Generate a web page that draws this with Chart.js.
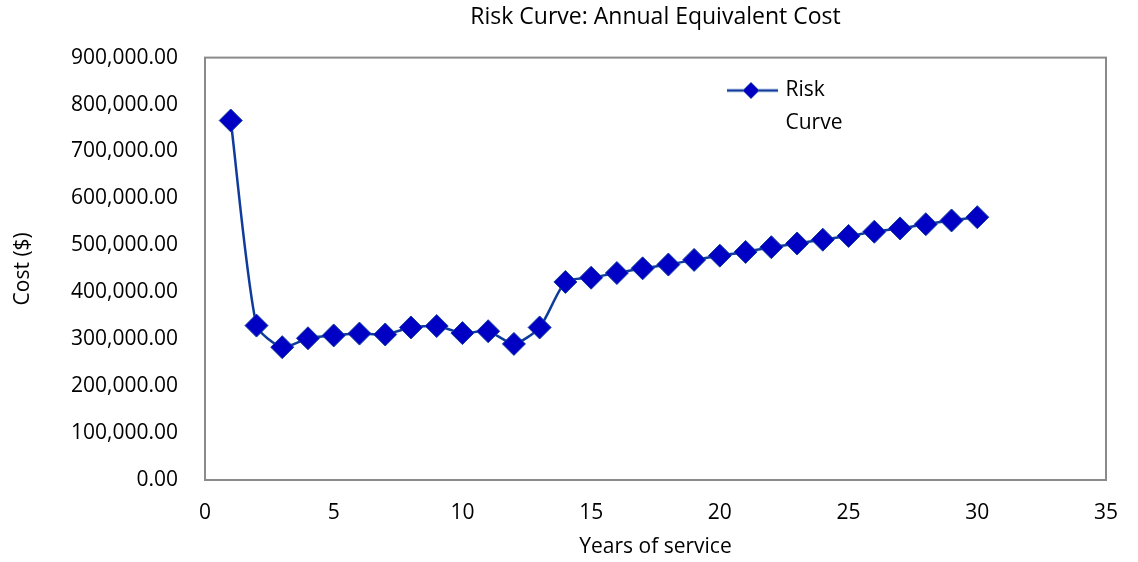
<!DOCTYPE html>
<html>
<head>
<meta charset="utf-8">
<script src="https://cdn.jsdelivr.net/npm/chart.js@4"></script>
<style>
  html, body { margin: 0; padding: 0; background: #ffffff; }
  #wrap { width: 1138px; height: 562px; }
</style>
</head>
<body>
<div id="wrap"><canvas id="c" width="1138" height="562"></canvas></div>
<script>
// Years of service and the annual equivalent cost of each year
const years = [1, 2, 3, 4, 5, 6, 7, 8, 9, 10, 11, 12, 13, 14, 15,
               16, 17, 18, 19, 20, 21, 22, 23, 24, 25, 26, 27, 28, 29, 30];
const riskCost = [766000, 329000, 283000, 302000, 308000, 312000, 310000, 325000, 328000, 313000,
                  317000, 290000, 325000, 422000, 431000, 441000, 451000, 459000, 469000, 478000,
                  486000, 496000, 504000, 512000, 520000, 529000, 536000, 545000, 553000, 560000];
const xTicks = [0, 5, 10, 15, 20, 25, 30, 35];
const yTicks = [0, 100000, 200000, 300000, 400000, 500000, 600000, 700000, 800000, 900000];

const FONT = "'Open Sans', 'Liberation Sans', sans-serif";
const LINE = '#0f3c9c';
const FILL = '#0000c4';

// Legend symbol: a short line with a diamond on it
function legendSymbol() {
  const cv = document.createElement('canvas');
  cv.width = 54; cv.height = 20;
  const g = cv.getContext('2d');
  g.strokeStyle = LINE; g.lineWidth = 2.5;
  g.beginPath(); g.moveTo(0, 10); g.lineTo(54, 10); g.stroke();
  g.fillStyle = FILL; g.strokeStyle = LINE; g.lineWidth = 1;
  g.beginPath(); g.moveTo(27, 2); g.lineTo(35, 10); g.lineTo(27, 18); g.lineTo(19, 10); g.closePath();
  g.fill(); g.stroke();
  return cv;
}

// Frame around the plot area and legend placement inside it
const framePlugin = {
  id: 'frame',
  beforeDraw(chart) {
    const lg = chart.legend;
    if (lg) {
      const w = lg.width, h = lg.height;
      lg.left = 727; lg.top = 80; lg.right = 727 + w; lg.bottom = 80 + h;
    }
  },
  afterDatasetsDraw(chart) {
    const a = chart.chartArea, ctx = chart.ctx;
    ctx.save();
    ctx.strokeStyle = '#8a8a8a';
    ctx.lineWidth = 2;
    ctx.strokeRect(a.left, a.top, a.right - a.left, a.bottom - a.top);
    ctx.restore();
  }
};

new Chart(document.getElementById('c'), {
  type: 'line',
  data: {
    datasets: [{
      label: 'Risk Curve',
      data: years.map((x, i) => ({ x: x, y: riskCost[i] })),
      borderColor: LINE,
      borderWidth: 2.5,
      backgroundColor: FILL,
      pointStyle: 'rectRot',
      pointRadius: 11.5,
      pointHoverRadius: 11.5,
      pointBackgroundColor: FILL,
      pointBorderColor: LINE,
      pointBorderWidth: 1,
      tension: 0.22,
      fill: false
    }]
  },
  options: {
    responsive: false,
    animation: false,
    layout: { padding: { left: 0, right: 28, top: 0, bottom: 0 } },
    plugins: {
      title: {
        display: true,
        fullSize: false,
        text: 'Risk Curve: Annual Equivalent Cost',
        color: '#000000',
        font: { family: FONT, size: 23, weight: 'normal' },
        padding: { top: 4, bottom: 26 }
      },
      legend: {
        display: true,
        position: 'chartArea',
        align: 'start',
        labels: {
          color: '#000000',
          font: { family: FONT, size: 21, lineHeight: 1.55 },
          usePointStyle: true,
          pointStyleWidth: 48,
          padding: 0,
          generateLabels: () => [{
            text: ['Risk', 'Curve'],
            pointStyle: legendSymbol(),
            fillStyle: FILL,
            strokeStyle: LINE,
            lineWidth: 0,
            datasetIndex: 0
          }]
        }
      },
      tooltip: { enabled: false }
    },
    scales: {
      x: {
        type: 'linear',
        min: 0,
        max: 35,
        afterBuildTicks: s => { s.ticks = xTicks.map(v => ({ value: v })); },
        afterFit: s => { s.height = 82; },
        grid: { display: false, drawTicks: false },
        border: { display: false },
        ticks: {
          color: '#000000',
          font: { family: FONT, size: 21 },
          padding: 20,
          maxRotation: 0
        },
        title: {
          display: true,
          text: 'Years of service',
          color: '#000000',
          font: { family: FONT, size: 21 },
          padding: { top: 0, bottom: 2 }
        }
      },
      y: {
        type: 'linear',
        min: 0,
        max: 900000,
        afterBuildTicks: s => { s.ticks = yTicks.map(v => ({ value: v })); },
        afterFit: s => { s.width = 205; },
        grid: { display: false, drawTicks: false },
        border: { display: false },
        ticks: {
          color: '#000000',
          font: { family: FONT, size: 21 },
          padding: 27,
          callback: v => Number(v).toLocaleString('en-US', { minimumFractionDigits: 2, maximumFractionDigits: 2 })
        },
        title: {
          display: true,
          text: 'Cost ($)',
          color: '#000000',
          font: { family: FONT, size: 21 },
          padding: { top: 10, bottom: 0 }
        }
      }
    }
  },
  plugins: [framePlugin]
});
</script>
</body>
</html>
